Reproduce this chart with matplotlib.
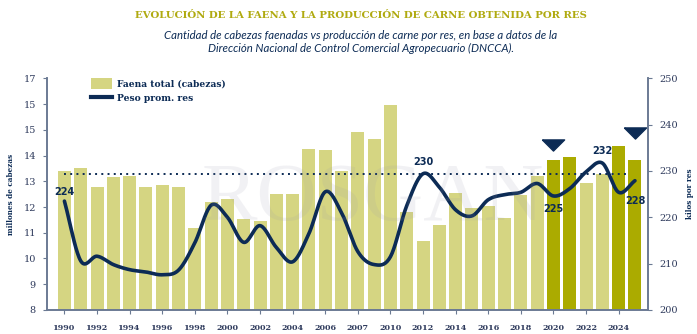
import numpy as np
import matplotlib
matplotlib.use("Agg")
import matplotlib.pyplot as plt
from matplotlib.patches import Patch
from matplotlib.lines import Line2D

# Datos
anios = list(range(1990, 2026))
faena = [13.38, 13.5, 12.77, 13.15, 13.2, 12.77, 12.85, 12.77, 11.2, 12.18,
         12.3, 11.53, 11.45, 12.5, 12.5, 14.27, 14.23, 13.4, 14.93, 14.65,
         15.98, 11.8, 10.67, 11.3, 12.55, 11.98, 12.04, 11.58, 12.46, 13.2,
         13.82, 13.94, 12.92, 13.3, 14.38, 13.82]
peso = [223.5, 210.6, 211.6, 209.8, 208.7, 208.2, 207.6, 208.6, 214.5, 222.6,
        220.0, 214.6, 218.2, 213.5, 210.4, 216.5, 225.5, 221.0, 212.6, 209.8,
        211.5, 222.5, 229.4, 226.5, 221.6, 220.3, 223.8, 224.9, 225.4, 227.3,
        224.6, 226.2, 229.8, 231.7, 225.4, 227.9]
destacados = [2020, 2021, 2024, 2025]
promedio = 229.3
etiquetas_x = ["1990", "1992", "1994", "1996", "1998", "2000", "2002", "2004", "2006",
               "2007", "2010", "2012", "2014", "2016", "2018", "2020", "2022", "2024"]
etiquetas_izq = ["8", "9", "10", "11", "12", "13", "14", "15", "15", "17"]
# etiqueta: (anio, desplazamiento vertical en puntos)
anotaciones = {"224": (1990, 3), "230": (2012, 5), "225": (2020, -6),
               "232": (2023, 5), "228": (2025, -11)}
flechas = {2020: 235.5, 2025: 238.1}

NAVY = "#0c2b55"
OLIVA_CLARO = "#d5d582"
OLIVA = "#abab00"
EJE = "#6b7a93"
TXT = "#2e3a5c"


def catmull_rom(x, y, n=20):
    """Curva suavizada tipo Excel para dibujar la linea"""
    x = np.asarray(x, float)
    y = np.asarray(y, float)
    px = np.concatenate([[2 * x[0] - x[1]], x, [2 * x[-1] - x[-2]]])
    py = np.concatenate([[2 * y[0] - y[1]], y, [2 * y[-1] - y[-2]]])
    xs, ys = [], []
    t = np.linspace(0, 1, n, endpoint=False)
    for i in range(1, len(px) - 2):
        for arr, out in ((px, xs), (py, ys)):
            p0, p1, p2, p3 = arr[i - 1], arr[i], arr[i + 1], arr[i + 2]
            out.extend(0.5 * ((2 * p1) + (-p0 + p2) * t
                              + (2 * p0 - 5 * p1 + 4 * p2 - p3) * t ** 2
                              + (-p0 + 3 * p1 - 3 * p2 + p3) * t ** 3))
    xs.append(x[-1])
    ys.append(y[-1])
    return np.array(xs), np.array(ys)


fig = plt.figure(figsize=(6.97, 3.34), dpi=100)
ax = fig.add_axes([0.0674, 0.0719, 0.8623, 0.6937])
ax2 = ax.twinx()

# marca de agua
fig.text(0.535, 0.40, "ROSGAN", ha="center", va="center", fontsize=60, family="Liberation Serif",
         color="#9a9aac", alpha=0.13, zorder=0)

idx = np.arange(len(anios))
colores = [OLIVA if a in destacados else OLIVA_CLARO for a in anios]
ax.bar(idx, faena, width=0.8, color=colores, zorder=1)
ax.set_ylim(8, 17)
ax.set_xlim(-1.07, 35.8)
ax.set_yticks(range(8, 18))
ax.set_yticklabels(etiquetas_izq)
ax.set_xticks(idx[::2])
ax.set_xticklabels(etiquetas_x, fontsize=5.8, fontweight="bold", family="DejaVu Serif", color=TXT)
ax.tick_params(axis="y", labelsize=7, colors=TXT, length=3, color=EJE, pad=5)
ax.tick_params(axis="x", length=3, color=EJE, pad=7)
for lbl in ax.get_yticklabels():
    lbl.set_family("DejaVu Serif")
ax.set_ylabel("millones de cabezas", fontsize=5.2, fontweight="bold", family="DejaVu Serif",
              color=NAVY, labelpad=6)

ax2.set_ylim(200, 250)
ax2.set_yticks(range(200, 251, 10))
ax2.tick_params(axis="y", labelsize=7, colors=TXT, length=3, color=EJE, pad=5)
for lbl in ax2.get_yticklabels():
    lbl.set_family("DejaVu Serif")
ax2.set_ylabel("kilos por res", fontsize=5.2, fontweight="bold", family="DejaVu Serif",
               color=NAVY, labelpad=6)

xs, ys = catmull_rom(idx, peso)
ax2.plot(xs, ys, color=NAVY, lw=2.6, solid_capstyle="round", zorder=3)
ax2.plot([0, 34.7], [promedio, promedio], ls=(0, (1, 2.2)), color=NAVY, lw=1.4, zorder=2)

for txt, (a, dy) in anotaciones.items():
    i = anios.index(a)
    ax2.annotate(txt, (i, peso[i]), xytext=(0, dy), textcoords="offset points", ha="center",
                 va="bottom" if dy > 0 else "top", fontsize=7, fontweight="bold",
                 family="DejaVu Sans", color=NAVY, zorder=4)

tri = [(-1, 0.5), (1, 0.5), (0, -0.5), (-1, 0.5)]
for a, y in flechas.items():
    ax2.plot([anios.index(a)], [y], marker=tri, markersize=16, color=NAVY, ls="none")

for s in (ax, ax2):
    s.spines["top"].set_visible(False)
    for k in ("left", "right", "bottom"):
        s.spines[k].set_color(EJE)
        s.spines[k].set_linewidth(1.2)

handles = [Patch(facecolor=OLIVA_CLARO), Line2D([0], [0], color=NAVY, lw=3)]
leg = ax.legend(handles, ["Faena total (cabezas)", "Peso prom. res"], loc="upper left",
                bbox_to_anchor=(0.06, 1.035), frameon=False, handlelength=2.3,
                handleheight=1.4, handletextpad=0.5, labelspacing=0.45,
                prop={"family": "DejaVu Serif", "weight": "bold", "size": 6.6})
for t in leg.get_texts():
    t.set_color(NAVY)

fig.text(0.518, 0.955, "EVOLUCIÓN DE LA FAENA Y LA PRODUCCIÓN DE CARNE OBTENIDA POR RES",
         ha="center", va="center", fontsize=7.3, fontweight="bold", family="DejaVu Serif",
         color="#b0aa10")
fig.text(0.518, 0.875, "Cantidad de cabezas faenadas vs producción de carne por res, en base a datos de la\n"
         "Dirección Nacional de Control Comercial Agropecuario (DNCCA).",
         ha="center", va="center", fontsize=8.2, style="italic", family="Lato", color=NAVY,
         linespacing=1.25)

fig.savefig("out.png", dpi=100)
